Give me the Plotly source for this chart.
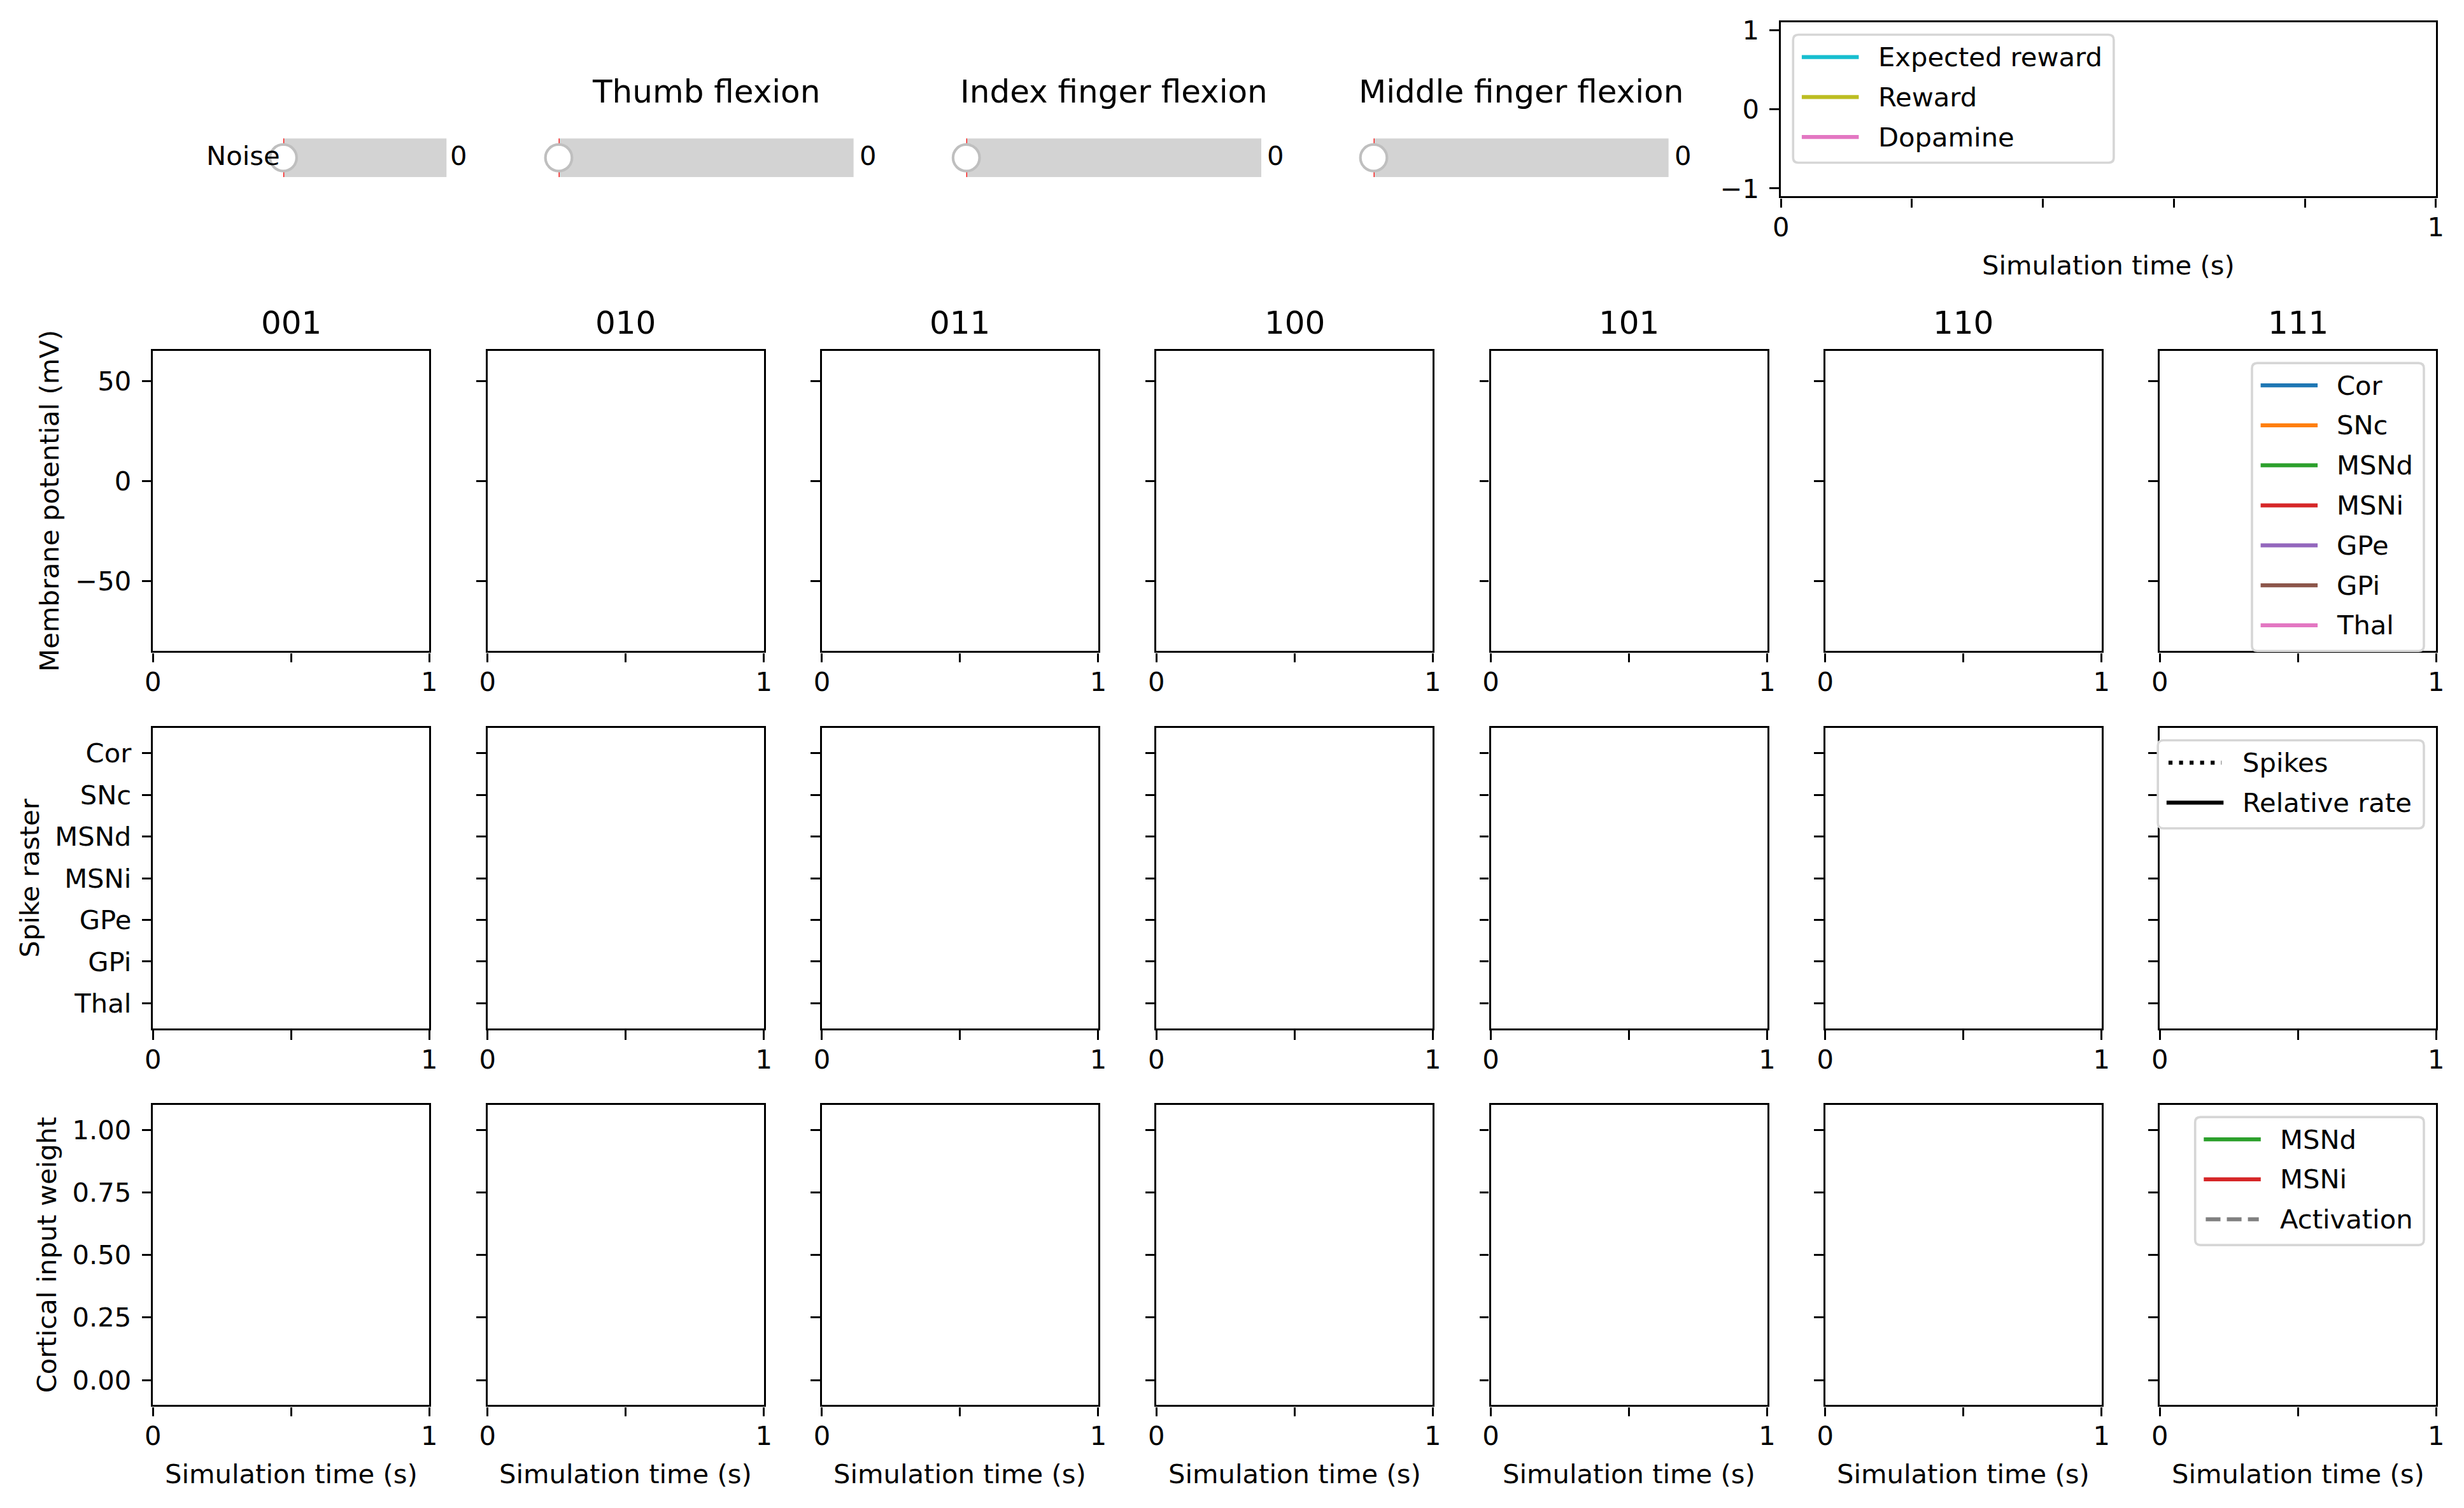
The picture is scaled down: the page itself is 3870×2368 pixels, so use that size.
import plotly.graph_objects as go

# ---------------- data ----------------
patterns = ["001", "010", "011", "100", "101", "110", "111"]
populations = ["Cor", "SNc", "MSNd", "MSNi", "GPe", "GPi", "Thal"]
population_colors = ["#1f77b4", "#ff7f0e", "#2ca02c", "#d62728", "#9467bd", "#8c564b", "#e377c2"]

reward_names = ["Expected reward", "Reward", "Dopamine"]
reward_colors = ["#17becf", "#bcbd22", "#e377c2"]

raster_names = ["Spikes", "Relative rate"]
raster_colors = ["#000000", "#000000"]
raster_dash = ["dot", "solid"]

weight_names = ["MSNd", "MSNi", "Activation"]
weight_colors = ["#2ca02c", "#d62728", "#808080"]
weight_dash = ["solid", "solid", "dash"]

slider_labels = ["Noise", "", "", ""]
slider_titles = ["", "Thumb flexion", "Index finger flexion", "Middle finger flexion"]
slider_values = [0, 0, 0, 0]
slider_init = [0, 0, 0, 0]
slider_min = [0, 0, 0, 0]
slider_max = [1, 1, 1, 1]

time_range = [0, 1]
time_ticks = [0, 0.5, 1]
time_ticktext = ["0", "", "1"]
top_time_ticks = [0, 0.2, 0.4, 0.6, 0.8, 1]
top_time_ticktext = ["0", "", "", "", "", "1"]

vm_range = [-85, 65]
vm_ticks = [-50, 0, 50]
vm_ticktext = ["\u221250", "0", "50"]

raster_range = [6.6, -0.6]
raster_ticks = list(range(len(populations)))

weight_range = [-0.1, 1.1]
weight_ticks = [0, 0.25, 0.5, 0.75, 1.0]
weight_ticktext = ["0.00", "0.25", "0.50", "0.75", "1.00"]

reward_range = [-1.1, 1.1]
reward_ticks = [-1, 0, 1]
reward_ticktext = ["\u22121", "0", "1"]

row_ylabels = ["Membrane potential (mV)", "Spike raster", "Cortical input weight"]
xlabel = "Simulation time (s)"

# ---------------- layout geometry (pixels) ----------------
W, H = 3870, 2368
FONT = "DejaVu Sans"
FS = 41.67
FS_T = 50.0
LW = 3.33
TL = 14.6
HALF = LW / 2

col_left = [238.7 + i * 525.3 for i in range(7)]
col_w = 437.3
row_top = [549.3, 1141.7, 1733.3]
row_h = 474.7

top_ax = dict(l=2795.5, r=3827.5, t=33.7, b=310.0)

sl_left = [445.0, 877.5, 1517.7, 2157.5]
sl_w = [256.5, 463.3, 463.3, 463.3]
sl_top, sl_bot = 217.3, 278.3


def X(px):
    return px / W


def Y(py):
    return 1 - py / H


def xdom(l, r):
    return [X(l + HALF), X(r - HALF)]


def ydom(t, b):
    return [Y(b - HALF), Y(t + HALF)]


def axis_style(letter, **kw):
    d = dict(showline=True, linecolor="black", linewidth=LW, mirror=True,
             ticks="outside", ticklen=TL, tickwidth=LW, tickcolor="black",
             showgrid=False, zeroline=False, fixedrange=True, automargin=False,
             ticklabelstandoff=(-5 if letter == "x" else 8),
             tickfont=dict(family=FONT, size=FS, color="black"))
    d.update(kw)
    return d


def ann(text, xpx, ypx, size=FS, xanchor="center", yanchor="middle", angle=0):
    return dict(text=text, x=X(xpx), y=Y(ypx), xref="paper", yref="paper",
                showarrow=False, xanchor=xanchor, yanchor=yanchor, textangle=angle,
                font=dict(family=FONT, size=size, color="black"),
                borderpad=0, borderwidth=0)


layout = dict(width=W, height=H, autosize=False,
              margin=dict(l=0, r=0, t=0, b=0, pad=0, autoexpand=False),
              paper_bgcolor="white", plot_bgcolor="white",
              showlegend=False, font=dict(family=FONT, size=FS, color="black"))

traces = []
shapes = []
annotations = []

row_series = [
    (populations, population_colors, ["solid"] * 7),
    (raster_names, raster_colors, raster_dash),
    (weight_names, weight_colors, weight_dash),
]

# ---------------- 3 x 7 panels ----------------
for r in range(3):
    for c in range(7):
        n = r * 7 + c + 1
        xa = "xaxis" if n == 1 else f"xaxis{n}"
        ya = "yaxis" if n == 1 else f"yaxis{n}"
        xid = "x" if n == 1 else f"x{n}"
        yid = "y" if n == 1 else f"y{n}"
        l = col_left[c]
        t = row_top[r]
        layout[xa] = axis_style("x", domain=xdom(l, l + col_w), anchor=yid,
                                range=time_range, tickmode="array",
                                tickvals=time_ticks, ticktext=time_ticktext)
        if r == 0:
            yk = dict(range=vm_range, tickvals=vm_ticks, ticktext=vm_ticktext)
        elif r == 1:
            yk = dict(range=raster_range, tickvals=raster_ticks, ticktext=populations)
        else:
            yk = dict(range=weight_range, tickvals=weight_ticks, ticktext=weight_ticktext)
        layout[ya] = axis_style("y", domain=ydom(t, t + row_h), anchor=xid,
                                tickmode="array", showticklabels=(c == 0), **yk)
        # empty series (no simulation data recorded yet)
        names, cols, dashes = row_series[r]
        for name, col, ds in zip(names, cols, dashes):
            traces.append(go.Scatter(x=[], y=[], name=name, mode="lines",
                                     line=dict(color=col, width=6.25, dash=ds),
                                     xaxis=xid, yaxis=yid, legendgroup=name))
        if r == 0:
            annotations.append(ann(patterns[c], l + col_w / 2, 507.4, size=FS_T))
        if r == 2:
            annotations.append(ann(xlabel, l + col_w / 2, t + row_h + 106.6))

ylab_x = [78.0, 46.5, 73.7]
for r in range(3):
    annotations.append(ann(row_ylabels[r], ylab_x[r], row_top[r] + row_h / 2, angle=-90))

# ---------------- top right axes ----------------
layout["xaxis22"] = axis_style("x", domain=xdom(top_ax["l"], top_ax["r"]), anchor="y22",
                               range=time_range, tickmode="array",
                               tickvals=top_time_ticks, ticktext=top_time_ticktext)
layout["yaxis22"] = axis_style("y", domain=ydom(top_ax["t"], top_ax["b"]), anchor="x22",
                               range=reward_range, tickmode="array",
                               tickvals=reward_ticks, ticktext=reward_ticktext)
for name, col in zip(reward_names, reward_colors):
    traces.append(go.Scatter(x=[], y=[], name=name, mode="lines",
                             line=dict(color=col, width=6.25), xaxis="x22", yaxis="y22"))
annotations.append(ann(xlabel, (top_ax["l"] + top_ax["r"]) / 2, top_ax["b"] + 106.6))

# ---------------- sliders ----------------
for i in range(4):
    n = 23 + i
    l, w = sl_left[i], sl_w[i]
    layout[f"xaxis{n}"] = dict(domain=[X(l), X(l + w)], anchor=f"y{n}",
                               range=[slider_min[i], slider_max[i]], visible=False,
                               fixedrange=True)
    layout[f"yaxis{n}"] = dict(domain=[Y(sl_bot), Y(sl_top)], anchor=f"x{n}",
                               range=[0, 1], visible=False, fixedrange=True)
    shapes.append(dict(type="rect", xref=f"x{n}", yref=f"y{n}",
                       x0=slider_min[i], x1=slider_max[i], y0=0, y1=1,
                       fillcolor="#d3d3d3", line=dict(width=0), layer="below"))
    shapes.append(dict(type="line", xref=f"x{n}", yref=f"y{n}",
                       x0=slider_init[i], x1=slider_init[i], y0=0, y1=1,
                       line=dict(color="#ff0000", width=2.6), layer="below"))
    traces.append(go.Scatter(x=[slider_values[i]], y=[0.5], xaxis=f"x{n}", yaxis=f"y{n}",
                             mode="markers", cliponaxis=False, hoverinfo="skip",
                             name=slider_titles[i] or slider_labels[i],
                             marker=dict(size=41.7, color="white", symbol="circle",
                                         line=dict(color="#bfbfbf", width=4.17))))
    if slider_labels[i]:
        annotations.append(ann(slider_labels[i], l - 0.02 * w, 244.4, xanchor="right"))
    annotations.append(ann(f"{slider_values[i]:g}", l + 1.02 * w, 244.4, xanchor="left"))
    if slider_titles[i]:
        annotations.append(ann(slider_titles[i], l + w / 2, 144.4, size=FS_T))


# ---------------- legends (drawn boxes) ----------------
def rounded_rect(x0, y0, x1, y1, rr):
    p = (f"M {X(x0 + rr)},{Y(y0)} L {X(x1 - rr)},{Y(y0)} "
         f"Q {X(x1)},{Y(y0)} {X(x1)},{Y(y0 + rr)} L {X(x1)},{Y(y1 - rr)} "
         f"Q {X(x1)},{Y(y1)} {X(x1 - rr)},{Y(y1)} L {X(x0 + rr)},{Y(y1)} "
         f"Q {X(x0)},{Y(y1)} {X(x0)},{Y(y1 - rr)} L {X(x0)},{Y(y0 + rr)} "
         f"Q {X(x0)},{Y(y0)} {X(x0 + rr)},{Y(y0)} Z")
    return dict(type="path", xref="paper", yref="paper", path=p,
                fillcolor="white", line=dict(color="#d6d6d6", width=3.6), layer="above")


PAD = 20.8
BORDER = 16.7
HANDLE = 83.3
TEXTPAD = 33.3
ROW0 = 35.0
ROWSP = 62.8
CAP = 3.1

legend_specs = [
    (reward_names, reward_colors, [None, None, None],
     top_ax["l"] + PAD, top_ax["t"] + PAD, 503.6),
    (populations, population_colors, [None] * 7,
     col_left[6] + col_w - PAD - 270.0, row_top[0] + PAD, 270.0),
    (raster_names, raster_colors, ["6.25px,10.3px", None],
     col_left[6] + col_w - PAD - 417.8, row_top[1] + PAD, 417.8),
    (weight_names, weight_colors, [None, None, "23.1px,10px"],
     col_left[6] + col_w - PAD - 359.3, row_top[2] + PAD, 359.3),
]

for names, cols, dashes, bx, by, bw in legend_specs:
    nrow = len(names)
    bh = 2 * BORDER + nrow * 42.0 + (nrow - 1) * 20.8
    shapes.append(rounded_rect(bx, by, bx + bw, by + bh, 8.3))
    for k, (nm, cl, ds) in enumerate(zip(names, cols, dashes)):
        yy = by + ROW0 + k * ROWSP
        hx0 = bx + BORDER
        hx1 = hx0 + HANDLE
        if ds is None:
            hx0 -= CAP
            hx1 += CAP
            ln = dict(color=cl, width=6.25)
        else:
            ln = dict(color=cl, width=6.25, dash=ds)
        shapes.append(dict(type="line", xref="paper", yref="paper",
                           x0=X(hx0), x1=X(hx1), y0=Y(yy), y1=Y(yy),
                           line=ln, layer="above"))
        annotations.append(ann(nm, bx + BORDER + HANDLE + TEXTPAD, yy, xanchor="left"))

layout["shapes"] = shapes
layout["annotations"] = annotations

fig = go.Figure(data=traces, layout=layout)
fig.write_html("out.html", config={"displayModeBar": False})
